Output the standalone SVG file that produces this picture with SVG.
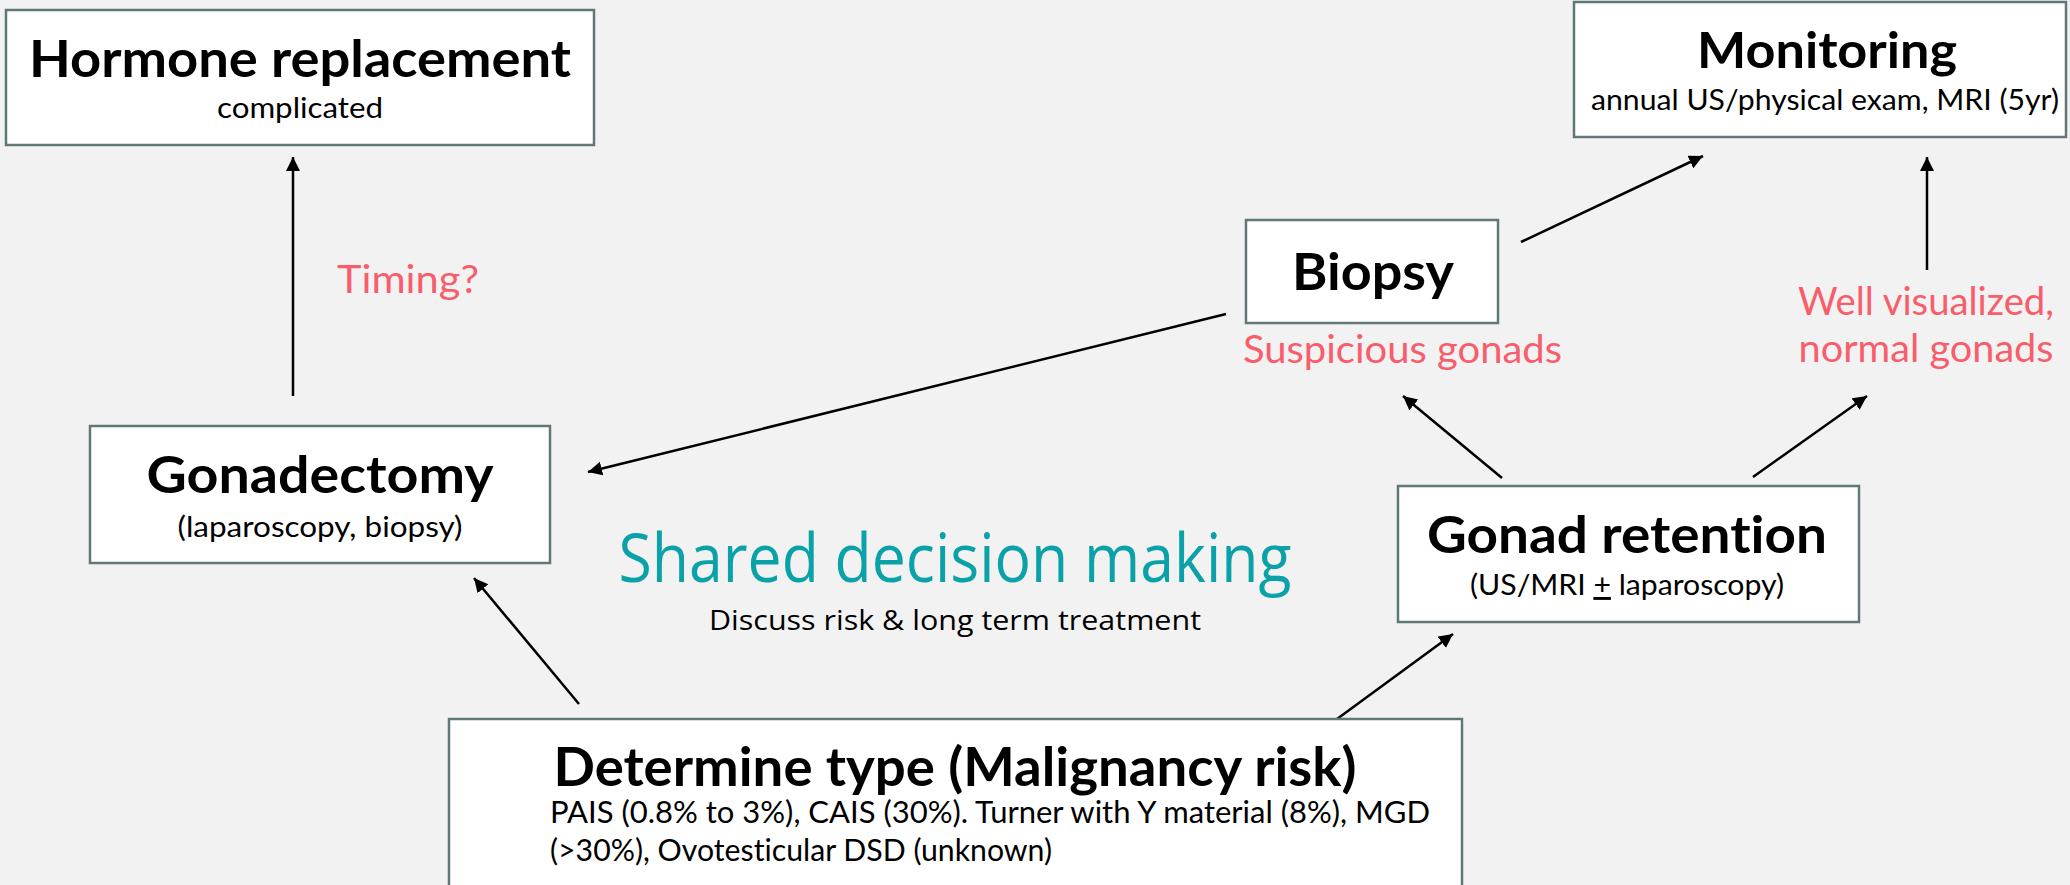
<svg xmlns="http://www.w3.org/2000/svg" width="2070" height="885" viewBox="0 0 2070 885">
<style>
.box{fill:#ffffff;stroke:#627878;stroke-width:2.5}
.t{font-family:Lato,"Noto Sans",sans-serif;font-weight:700;fill:#000;text-anchor:middle;font-variant-ligatures:none}
.s{font-family:Lato,"Noto Sans",sans-serif;font-weight:400;fill:#000;text-anchor:middle;font-variant-ligatures:none}
.p{font-family:Lato,"Noto Sans",sans-serif;font-weight:400;fill:#f85d6c;font-size:39px}
.c{stroke:#000;stroke-width:2.5;fill:none;marker-end:url(#ah)}
</style>
<defs>
<marker id="ah" markerUnits="userSpaceOnUse" markerWidth="16" markerHeight="16" refX="14" refY="7" orient="auto">
<path d="M0,0 L14,7 L0,14 z" fill="#000"/>
</marker>
</defs>
<rect width="2070" height="885" fill="#f2f2f2"/>
<g id="connectors">
<line class="c" x1="293" y1="396" x2="293" y2="157"/>
<line class="c" x1="1226" y1="314" x2="588" y2="472"/>
<line class="c" x1="1521" y1="242" x2="1703" y2="156"/>
<line class="c" x1="1927" y1="270" x2="1927" y2="157"/>
<line class="c" x1="1502" y1="478" x2="1403" y2="396"/>
<line class="c" x1="1753" y1="477" x2="1867" y2="396"/>
<line class="c" x1="579" y1="704" x2="474" y2="578"/>
<line class="c" x1="1337" y1="719" x2="1453" y2="634"/>
</g>
<g id="hormone">
<rect class="box" x="6" y="10" width="588" height="135"/>
<text class="t" x="300" y="77" font-size="52" textLength="542" lengthAdjust="spacingAndGlyphs">Hormone replacement</text>
<text class="s" x="300" y="118" font-size="29" textLength="166" lengthAdjust="spacingAndGlyphs">complicated</text>
</g>
<g id="monitoring">
<rect class="box" x="1574" y="2" width="492" height="135"/>
<text class="t" x="1827" y="68" font-size="50" textLength="260" lengthAdjust="spacingAndGlyphs">Monitoring</text>
<text class="s" x="1825" y="110" font-size="29" textLength="468" lengthAdjust="spacingAndGlyphs">annual US/physical exam, MRI (5yr)</text>
</g>
<g id="biopsy">
<rect class="box" x="1246" y="220" width="252" height="103"/>
<text class="t" x="1373" y="290" font-size="52" textLength="162" lengthAdjust="spacingAndGlyphs">Biopsy</text>
</g>
<g id="gonadectomy">
<rect class="box" x="90" y="426" width="460" height="137"/>
<text class="t" x="320" y="493" font-size="51" textLength="347" lengthAdjust="spacingAndGlyphs">Gonadectomy</text>
<text class="s" x="320" y="537" font-size="29" textLength="285" lengthAdjust="spacingAndGlyphs">(laparoscopy, biopsy)</text>
</g>
<g id="retention">
<rect class="box" x="1398" y="486" width="461" height="136"/>
<text class="t" x="1627" y="553" font-size="52" textLength="400" lengthAdjust="spacingAndGlyphs">Gonad retention</text>
<text class="s" x="1627" y="595" font-size="29" textLength="314" lengthAdjust="spacingAndGlyphs">(US/MRI <tspan text-decoration="underline">+</tspan> laparoscopy)</text>
</g>
<g id="determine">
<rect class="box" x="449" y="719" width="1013" height="180"/>
<text class="t" x="955" y="786" font-size="53" textLength="803" lengthAdjust="spacingAndGlyphs">Determine type (Malignancy risk)</text>
<text class="s" x="550" y="823" font-size="30" style="text-anchor:start" textLength="880" lengthAdjust="spacingAndGlyphs">PAIS (0.8% to 3%), CAIS (30%). Turner with Y material (8%), MGD</text>
<text class="s" x="550" y="861" font-size="30" style="text-anchor:start" textLength="502" lengthAdjust="spacingAndGlyphs">(&gt;30%), Ovotesticular DSD (unknown)</text>
</g>
<g id="labels">
<text class="p" x="408" y="293" text-anchor="middle" textLength="142" lengthAdjust="spacingAndGlyphs">Timing?</text>
<text class="p" x="1243" y="363" textLength="319" lengthAdjust="spacingAndGlyphs">Suspicious gonads</text>
<text class="p" x="1926" y="315" text-anchor="middle" textLength="256" lengthAdjust="spacingAndGlyphs">Well visualized,</text>
<text class="p" x="1926" y="362" text-anchor="middle" textLength="255" lengthAdjust="spacingAndGlyphs">normal gonads</text>
</g>
<g id="shared">
<text x="955" y="582" font-family="'Open Sans','Noto Sans',sans-serif" font-size="68" fill="#0aa2a8" text-anchor="middle" textLength="673" lengthAdjust="spacingAndGlyphs">Shared decision making</text>
<text x="955" y="630" font-family="'Open Sans','Noto Sans',sans-serif" font-size="27" fill="#000" text-anchor="middle" textLength="492" lengthAdjust="spacingAndGlyphs">Discuss risk &amp; long term treatment</text>
</g>
</svg>
